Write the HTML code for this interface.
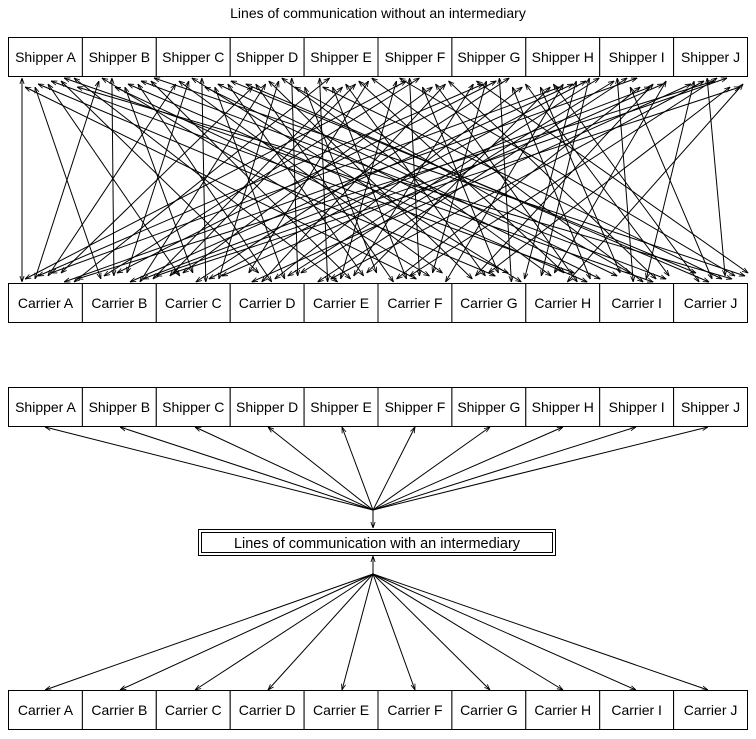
<!DOCTYPE html>
<html><head><style>
body{margin:0;background:#fff;}
svg{display:block;font-family:"Liberation Sans","DejaVu Sans",sans-serif;}
</style></head><body>
<svg id="s" width="756" height="739" xmlns="http://www.w3.org/2000/svg">
<defs>
<marker id="a" viewBox="0 0 10 10" refX="10" refY="5" markerWidth="6" markerHeight="6" orient="auto-start-reverse" markerUnits="userSpaceOnUse">
<path d="M0,1.5 L10,5 L0,8.5" fill="none" stroke="#000" stroke-width="1.4"/></marker>
</defs>
<text x="378" y="18" font-size="14" text-anchor="middle">Lines of communication without an intermediary</text>
<g id="g" stroke="#000" fill="none"></g>
<rect x="198.5" y="529.5" width="357" height="26" fill="#fff" stroke="#000"/>
<rect x="201.5" y="532.5" width="351" height="20" fill="none" stroke="#000"/>
<text x="377" y="548" font-size="14.5" text-anchor="middle">Lines of communication with an intermediary</text>
</svg>
<script>
const g=document.getElementById('g'),s=document.getElementById('s');
const L="ABCDEFGHIJ";const W=73.9,X0=8;
function ln(x1,y1,x2,y2,both){const l=document.createElementNS('http://www.w3.org/2000/svg','line');
l.setAttribute('x1',x1);l.setAttribute('y1',y1);l.setAttribute('x2',x2);l.setAttribute('y2',y2);
l.setAttribute('stroke-width','1');l.setAttribute('marker-end','url(#a)');if(both)l.setAttribute('marker-start','url(#a)');g.appendChild(l);}
function box(x,y,t){const r=document.createElementNS('http://www.w3.org/2000/svg','rect');
r.setAttribute('x',x+.5);r.setAttribute('y',y+.5);r.setAttribute('width',W);r.setAttribute('height',39);r.setAttribute('fill','#fff');r.setAttribute('stroke','#000');s.appendChild(r);
const tx=document.createElementNS('http://www.w3.org/2000/svg','text');tx.setAttribute('x',x+W/2+.5);tx.setAttribute('y',y+25);tx.setAttribute('font-size','14');tx.setAttribute('text-anchor','middle');tx.textContent=t;s.appendChild(tx);}
for(let i=0;i<10;i++)for(let j=0;j<10;j++){
 const xs=X0+6+((j*13+i*3)%62), xc=X0+6+((i*13+j*5)%62);
 const ys=78+((j*7+i)%4)*3, yc=282-((i*5+j)%4)*3;
 ln(X0+i*W+xs,ys,X0+j*W+xc,yc,true);}
const tx=[45,120,195,268,342,415,490,563,636,708];
for(let i=0;i<10;i++){ln(373,510,tx[i],427,false);ln(373,574,tx[i],690,false);}
ln(373,510,373,528,false);ln(373,574,373,556,false);
for(let i=0;i<10;i++){box(X0+i*W,37,"Shipper "+L[i]);box(X0+i*W,283,"Carrier "+L[i]);box(X0+i*W,387,"Shipper "+L[i]);box(X0+i*W,690,"Carrier "+L[i]);}
</script>
</body></html>
